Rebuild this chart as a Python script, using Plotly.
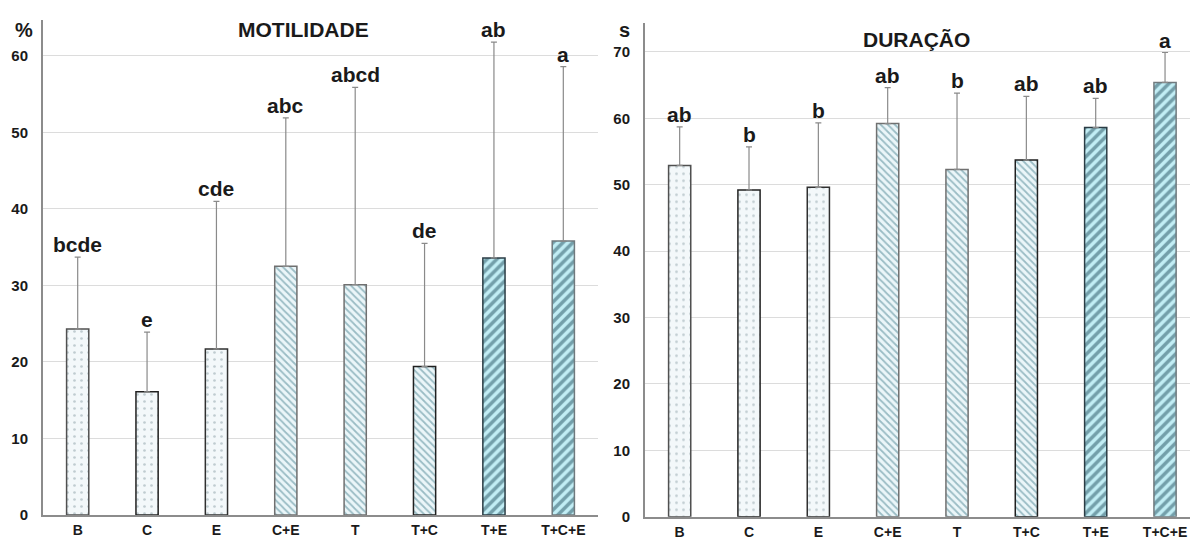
import plotly.graph_objects as go

categories = ["B", "C", "E", "C+E", "T", "T+C", "T+E", "T+C+E"]

# MOTILIDADE (%)
mot_mean = [24.3, 16.1, 21.7, 32.5, 30.1, 19.4, 33.6, 35.8]
mot_top = [33.7, 23.9, 41.0, 51.9, 55.9, 35.5, 61.8, 58.6]
mot_letters = ["bcde", "e", "cde", "abc", "abcd", "de", "ab", "a"]

# DURAÇÃO (s)
dur_mean = [52.9, 49.2, 49.6, 59.2, 52.3, 53.7, 58.6, 65.4]
dur_top = [58.7, 55.7, 59.3, 64.6, 63.8, 63.3, 63.0, 69.9]
dur_letters = ["ab", "b", "b", "ab", "b", "ab", "ab", "a"]

group_kind = ["dot", "dot", "dot", "back", "back", "back", "fwd", "fwd"]
kind_style = {
    "dot": dict(shape=".", fg="#8c9fa5", bg="#f3f8fa", size=7, sol=0.12),
    "back": dict(shape="\\", fg="#4a8290", bg="#ebf6f9", size=5, sol=0.35),
    "fwd": dict(shape="/", fg="#23505f", bg="#c2eef5", size=7, sol=0.5),
}
border_colors = ["#505050", "#202020", "#303030", "#707070", "#707070", "#202020", "#2b3d45", "#707a7e"]

FONT = "Liberation Sans, Arial, sans-serif"
TXT = "#1a1a1a"

fig = go.Figure()

def add_bars(means, tops, xa, ya):
    for kind, st in kind_style.items():
        idx = [i for i, k in enumerate(group_kind) if k == kind]
        fig.add_trace(go.Bar(
            x=[categories[i] for i in idx], y=[means[i] for i in idx],
            xaxis=xa, yaxis=ya, width=0.32,
            marker=dict(
                color=st["bg"],
                line=dict(color=[border_colors[i] for i in idx], width=1.5),
                pattern=dict(shape=st["shape"], fgcolor=st["fg"], bgcolor=st["bg"],
                             size=st["size"], solidity=st["sol"], fillmode="overlay"),
            ),
            error_y=dict(type="data", symmetric=False,
                         array=[tops[i] - means[i] for i in idx],
                         arrayminus=[0] * len(idx),
                         color="#8a8a8a", thickness=1.2, width=3),
            showlegend=False,
        ))

add_bars(mot_mean, mot_top, "x", "y")
add_bars(dur_mean, dur_top, "x2", "y2")

annotations = []
for c, t, l in zip(categories, mot_top, mot_letters):
    annotations.append(dict(x=c, y=t, xref="x", yref="y", text=l, showarrow=False,
                            yanchor="bottom", yshift=-1,
                            font=dict(family=FONT, size=21, color=TXT, weight="bold")))
for c, t, l in zip(categories, dur_top, dur_letters):
    annotations.append(dict(x=c, y=t, xref="x2", yref="y2", text=l, showarrow=False,
                            yanchor="bottom", yshift=-1,
                            font=dict(family=FONT, size=21, color=TXT, weight="bold")))

W, H = 1190, 539
def px(xp, yp):
    return xp / W, 1 - yp / H

for text, (xp, yp) in [("MOTILIDADE", (303, 29)), ("DURAÇÃO", (916, 40)),
                       ("%", (24, 30)), ("s", (624, 30))]:
    x, y = px(xp, yp)
    annotations.append(dict(x=x, y=y, xref="paper", yref="paper", text=text,
                            showarrow=False, xanchor="center", yanchor="middle",
                            font=dict(family=FONT, size=21 if len(text) > 1 else 20,
                                      color=TXT, weight="bold")))

axis_common = dict(showgrid=False, showline=True, linecolor="#8c8c8c", linewidth=2,
                   ticks="", automargin=False, ticklabelstandoff=1,
                   tickfont=dict(family=FONT, size=14, color=TXT, weight="bold"),
                   fixedrange=True)
yaxis_common = dict(showgrid=True, gridcolor="#dcdcdc", gridwidth=1, zeroline=False,
                    showline=True, linecolor="#8c8c8c", linewidth=2, ticks="",
                    automargin=False,
                    tickfont=dict(family=FONT, size=15, color=TXT, weight="bold"),
                    ticklabelstandoff=10, fixedrange=True)

fig.update_layout(
    width=W, height=H, margin=dict(l=0, r=0, t=0, b=0),
    paper_bgcolor="white", plot_bgcolor="white",
    barmode="overlay",
    xaxis=dict(domain=[43 / W, 598 / W], range=[-0.5, 7.5], anchor="y", **axis_common),
    yaxis=dict(domain=[1 - 515 / H, 1 - 20 / H], range=[0, 64.7], anchor="x",
               tickvals=[0, 10, 20, 30, 40, 50, 60], **yaxis_common),
    xaxis2=dict(domain=[645 / W, 1.0], range=[-0.5, 7.36], anchor="y2", **axis_common),
    yaxis2=dict(domain=[1 - 516.7 / H, 1 - 23.3 / H], range=[0, 74.3], anchor="x2",
                tickvals=[0, 10, 20, 30, 40, 50, 60, 70], **yaxis_common),
    annotations=annotations,
)

fig.write_html("out.html", config={"displayModeBar": False},
               post_script="document.body.style.margin='0';document.body.style.overflow='hidden';")
